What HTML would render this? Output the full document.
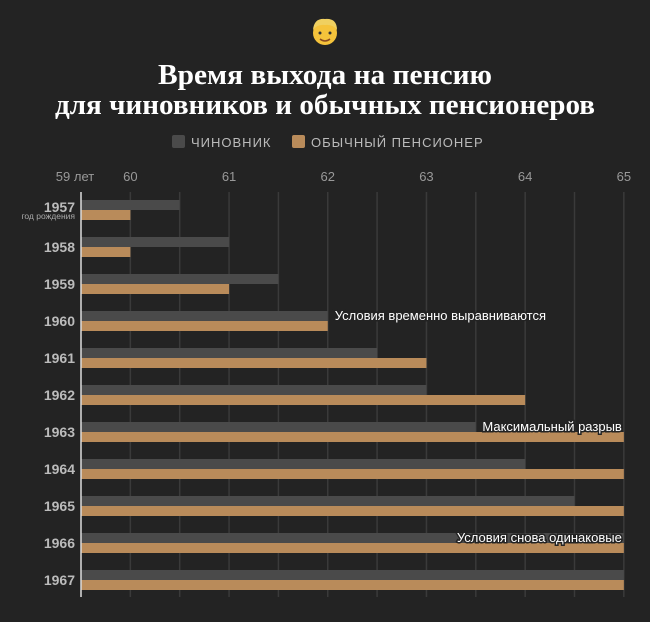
<!DOCTYPE html>
<html><head><meta charset="utf-8"><style>
body{margin:0;background:#232323;width:650px;height:622px;overflow:hidden;font-family:"Liberation Sans","DejaVu Sans",sans-serif}
</style></head><body>
<svg width="650" height="622" style="display:block">
<rect width="650" height="622" fill="#232323"/>
<g>
<circle cx="325" cy="33" r="12" fill="#f5c33b"/>
<path d="M313 30 Q314 18 325 19 Q337 18 337 30 Q333 24 325 25 Q317 24 313 30Z" fill="#f0d060"/>
<circle cx="320" cy="33" r="1.5" fill="#333"/><circle cx="330" cy="33" r="1.5" fill="#333"/>
<path d="M320 39 Q325 43 330 39" stroke="#8a4a20" stroke-width="1.5" fill="none"/>
</g>
<text x="325" y="84" text-anchor="middle" fill="#fff" font-family="Liberation Serif,serif" font-weight="bold" font-size="28" textLength="334" lengthAdjust="spacingAndGlyphs">Время выхода на пенсию</text>
<text x="325" y="114" text-anchor="middle" fill="#fff" font-family="Liberation Serif,serif" font-weight="bold" font-size="28" textLength="540" lengthAdjust="spacingAndGlyphs">для чиновников и обычных пенсионеров</text>
<g>
<rect x="172" y="135" width="13" height="13" rx="2" fill="#4a4a4a"/>
<text x="191" y="147" fill="#bbb" font-size="13" letter-spacing="1">ЧИНОВНИК</text>
<rect x="292" y="135" width="13" height="13" rx="2" fill="#b98b5a"/>
<text x="311" y="147" fill="#bbb" font-size="13" letter-spacing="1">ОБЫЧНЫЙ ПЕНСИОНЕР</text>
</g>
<g id="plot"></g>
</svg>
<script>
const years=["1957","1958","1959","1960","1961","1962","1963","1964","1965","1966","1967"];
const officials=[60.5,61,61.5,62,62.5,63,63.5,64,64.5,65,65];
const regular=[60,60,61,62,63,64,65,65,65,65,65];
const ticks=[60,61,62,63,64,65];
const notes=[{i:3,t:"Условия временно выравниваются",left:true},{i:6,t:"Максимальный разрыв"},{i:9,t:"Условия снова одинаковые"}];
const NS="http://www.w3.org/2000/svg";
const g=document.getElementById('plot');
const x0=81,pxPerYear=98.7,vMin=59.5;
const x=v=>x0+(v-vMin)*pxPerYear;
const rowY=i=>200+i*37;
function mk(tag,a){const e=document.createElementNS(NS,tag);for(const k in a)e.setAttribute(k,a[k]);g.appendChild(e);return e;}
for(let v=60;v<=65;v+=0.5){const l=mk('line',{x1:x(v),x2:x(v),y1:192,y2:597,stroke:'#3a3a3a','stroke-width':1.5});

}
ticks.forEach(v=>{const t=mk('text',{x:x(v),y:181,'text-anchor':'middle',fill:'#999','font-size':13});t.textContent=v;

});
const t0=mk('text',{x:x0-6,y:181,'text-anchor':'middle',fill:'#999','font-size':13});t0.textContent="59 лет";


years.forEach((yr,i)=>{
 const y=rowY(i);
 const b1=mk('rect',{x:x0,y:y,width:x(officials[i])-x0,height:10,fill:'#4a4a4a'});
 
 
 const b2=mk('rect',{x:x0,y:y+10,width:x(regular[i])-x0,height:10,fill:'#b98b5a'});
 
 
 const lb=mk('text',{x:75,y:y+(i==0?12:15),'text-anchor':'end',fill:'#bbb','font-size':14,'font-weight':'bold'});lb.textContent=yr;
 
 
});
const sub=mk('text',{x:75,y:219,'text-anchor':'end',fill:'#aaa','font-size':8.5});sub.textContent="год рождения";


const ax=mk('line',{x1:x0,x2:x0,y1:192,y2:597,stroke:'#ddd','stroke-width':1.5});


notes.forEach(n=>{const y=rowY(n.i);
 const t=n.left
  ? mk('text',{x:x(officials[n.i])+7,y:y+9,'text-anchor':'start',fill:'#fff','font-size':13,stroke:'#232323','stroke-width':3,'paint-order':'stroke'})
  : mk('text',{x:x(65)-2,y:y+9,'text-anchor':'end',fill:'#fff','font-size':13,stroke:'#232323','stroke-width':3,'paint-order':'stroke'});
 t.textContent=n.t;
 
 });
</script>
</body></html>
